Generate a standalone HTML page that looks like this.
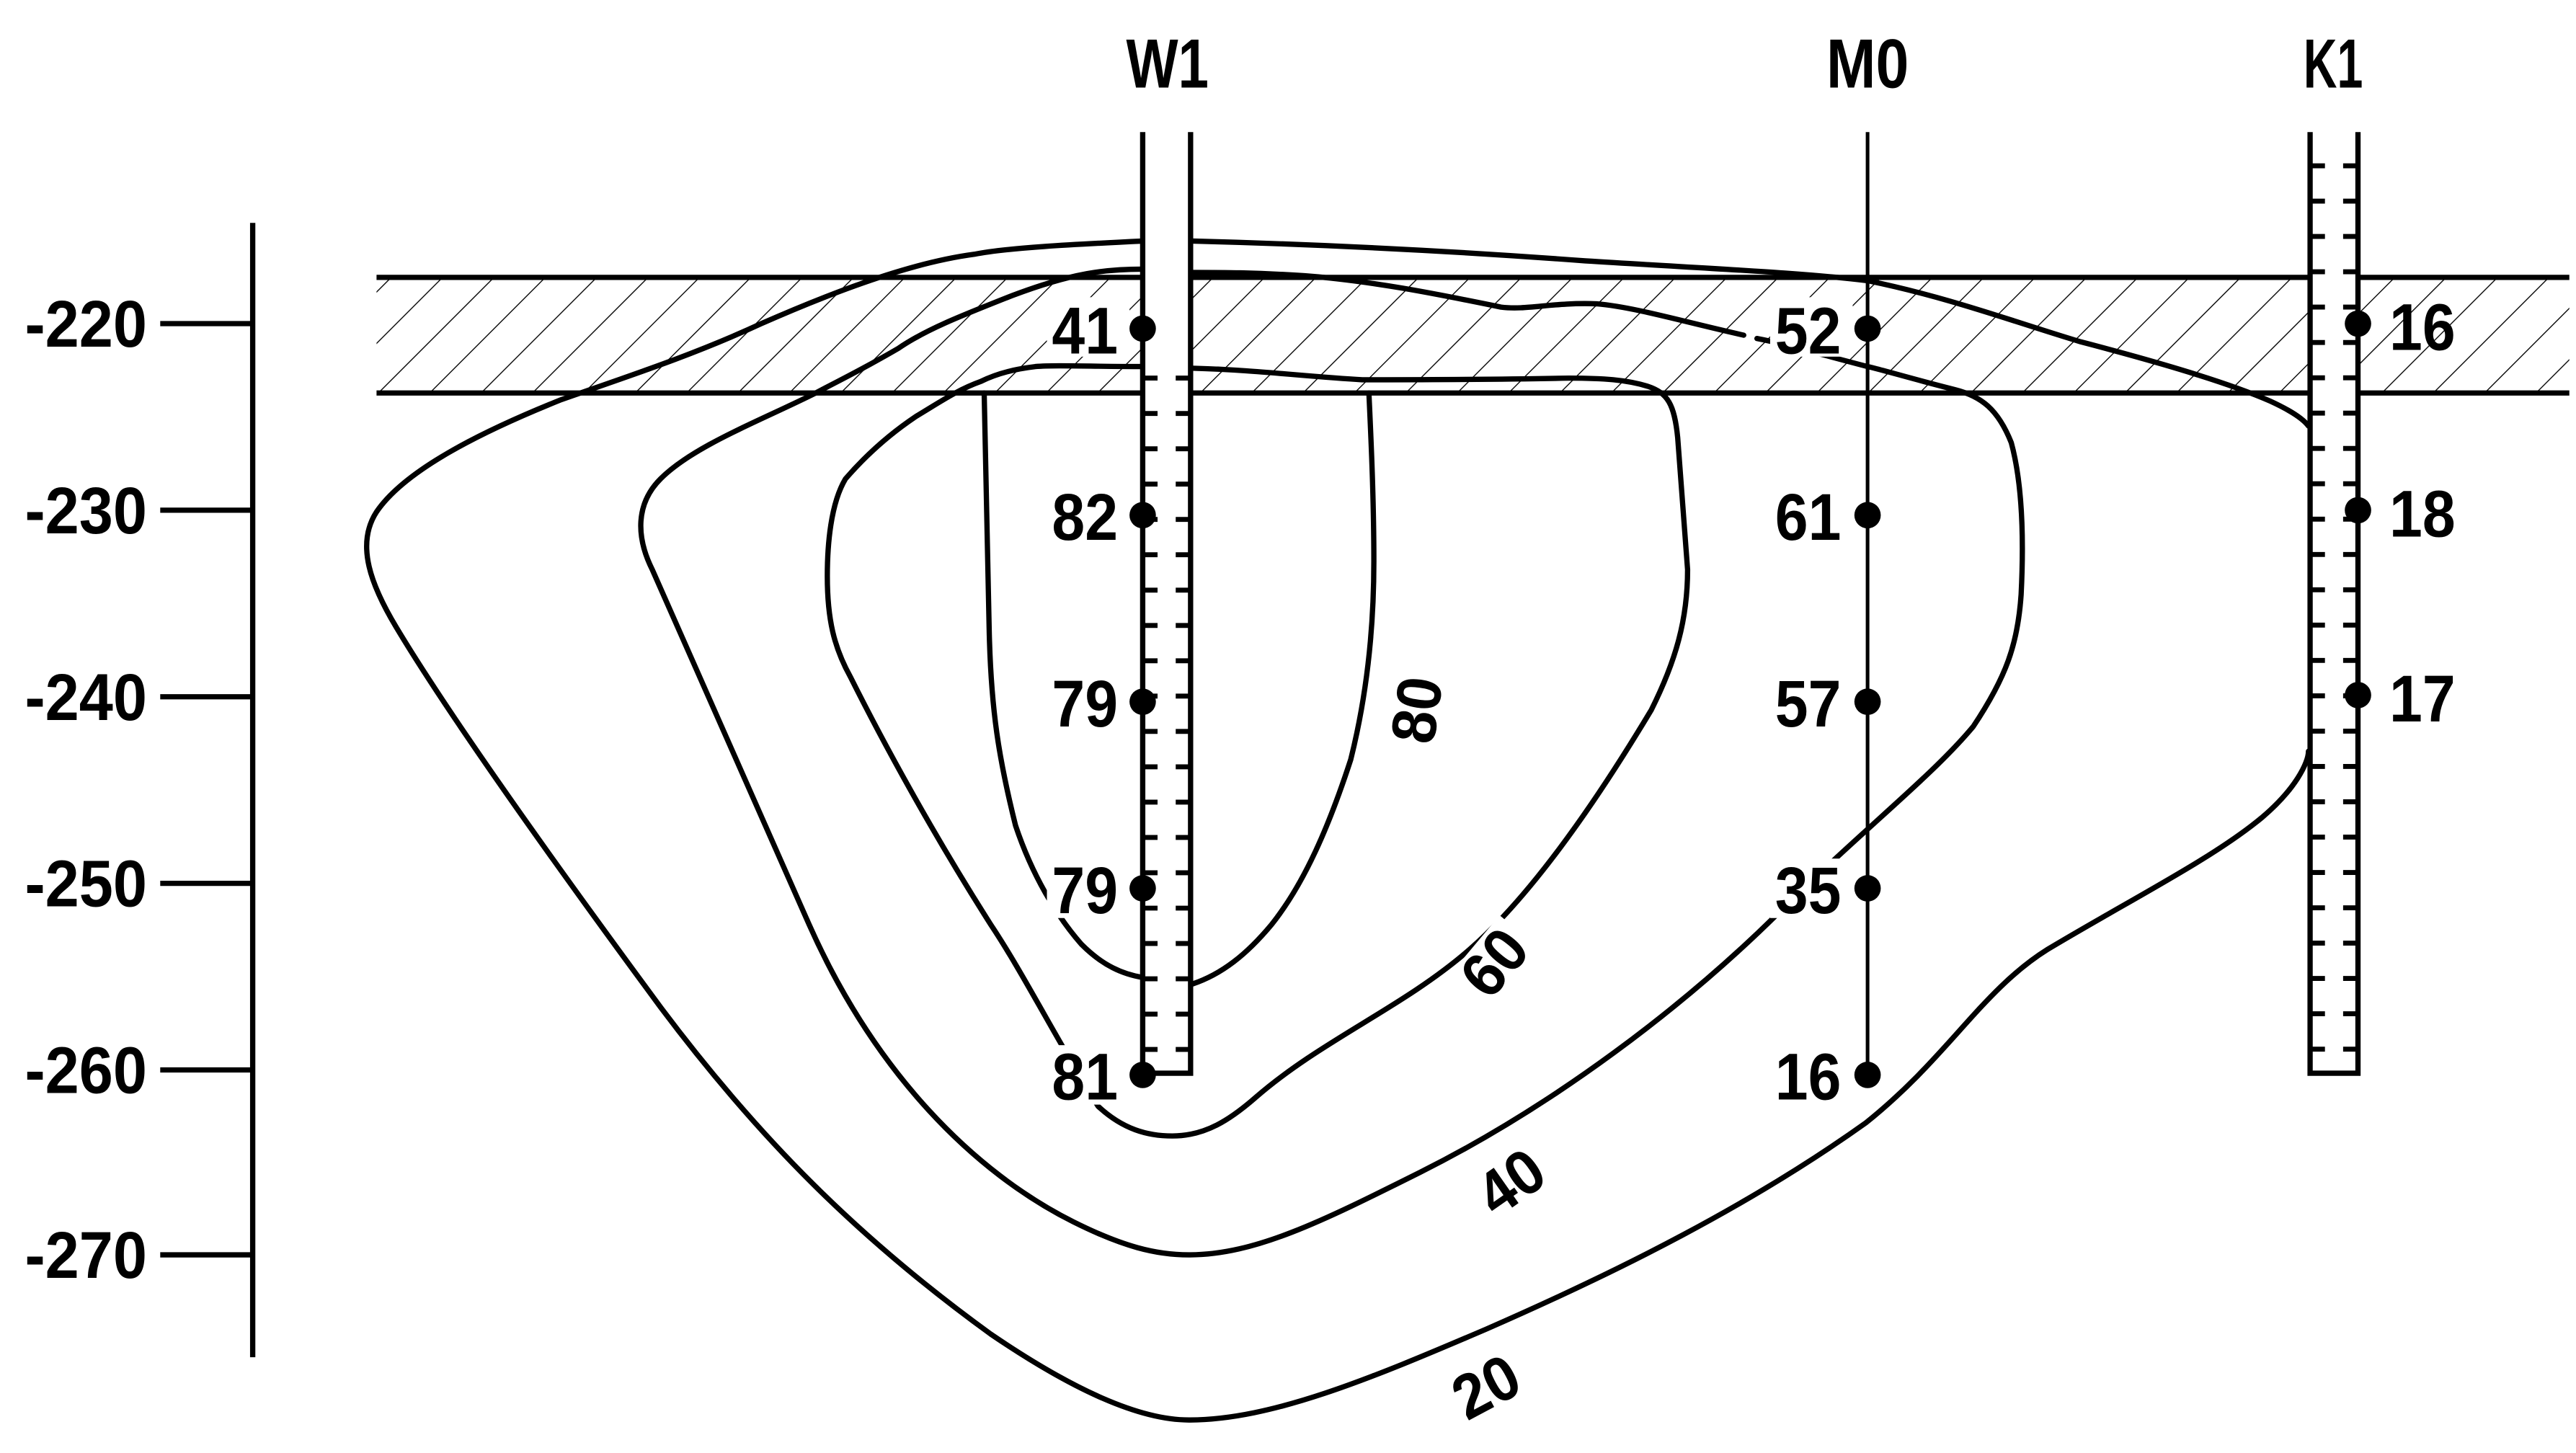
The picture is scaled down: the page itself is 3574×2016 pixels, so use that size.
<!DOCTYPE html>
<html><head><meta charset="utf-8"><style>
html,body{margin:0;padding:0;background:#fff}
svg{display:block}
text{font-family:"Liberation Sans Narrow","Liberation Sans",sans-serif;font-weight:bold;fill:#000}
</style></head><body>
<svg width="3574" height="2016" viewBox="0 0 1560 880" xmlns="http://www.w3.org/2000/svg">
<defs>
<pattern id="h" patternUnits="userSpaceOnUse" width="22" height="22" patternTransform="rotate(45)">
<line x1="0" y1="0" x2="0" y2="22" stroke="#000" stroke-width="1.2"/>
</pattern>
</defs>
<rect width="1560" height="880" fill="#fff"/>
<rect x="228" y="168" width="1328" height="70" fill="url(#h)"/>
<line x1="228" y1="168" x2="1556" y2="168" stroke="#000" stroke-width="3.2"/>
<line x1="228" y1="238" x2="1556" y2="238" stroke="#000" stroke-width="3.2"/>

<g stroke="#000" stroke-width="3.2">
<line x1="153" y1="135" x2="153" y2="822"/>
<line x1="97" y1="196" x2="153" y2="196"/>
<line x1="97" y1="309" x2="153" y2="309"/>
<line x1="97" y1="422" x2="153" y2="422"/>
<line x1="97" y1="535" x2="153" y2="535"/>
<line x1="97" y1="648" x2="153" y2="648"/>
<line x1="97" y1="760" x2="153" y2="760"/>
</g>
<g font-size="40" text-anchor="end">
<text x="89" y="210" textLength="74" lengthAdjust="spacingAndGlyphs">-220</text>
<text x="89" y="323" textLength="74" lengthAdjust="spacingAndGlyphs">-230</text>
<text x="89" y="436" textLength="74" lengthAdjust="spacingAndGlyphs">-240</text>
<text x="89" y="549" textLength="74" lengthAdjust="spacingAndGlyphs">-250</text>
<text x="89" y="662" textLength="74" lengthAdjust="spacingAndGlyphs">-260</text>
<text x="89" y="774" textLength="74" lengthAdjust="spacingAndGlyphs">-270</text>
</g>

<g fill="none" stroke="#000" stroke-width="3.2" stroke-linejoin="round" stroke-linecap="round">
<path d="M692,146 C650,148 610,150 590,154 C560,158 520,170 461,196 C420,215 380,228 340,242 C290,262 245,285 228,310 C215,330 225,355 240,380 C270,430 330,515 400,610 C460,690 520,750 600,808 C650,842 690,860 720,860 C770,860 830,835 900,805 C980,770 1060,730 1130,680 C1180,640 1200,600 1240,575 C1290,545 1340,520 1370,495 C1390,478 1398,462 1398,455"/>
<path d="M722,146 C800,148 880,152 960,158 C1040,163 1090,165 1131,170 C1180,180 1220,195 1260,207 C1310,220 1350,232 1375,243 C1388,249 1395,254 1398,258"/>
<path d="M692,163 C670,163 650,165 613,179 C580,192 560,200 544,211 C520,225 505,232 494,238 C460,255 420,270 400,290 C385,305 385,325 395,345 C420,400 450,470 490,560 C530,650 590,710 650,740 C680,755 700,760 720,760 C760,760 800,740 860,710 C940,670 1020,610 1080,550 C1131,500 1170,470 1195,440 C1215,410 1222,390 1224,360 C1226,320 1224,290 1218,268 C1210,248 1200,240 1184,236 C1160,230 1140,224 1131,222 C1100,214 1080,208 1064,205"/>
<path d="M1056,203 C1020,195 990,186 967,184 C940,183 925,188 909,186 C870,178 830,170 790,167 C760,165 740,165 722,165"/>
<path d="M692,222 C660,222 640,221 627,222 C610,224 600,228 594,231 C580,236 570,243 555,252 C540,262 525,275 512,290 C503,305 501,330 501,349 C501,375 505,392 515,410 C535,450 565,505 600,560 C620,590 640,630 665,670 C680,684 695,688 710,688 C730,688 745,678 760,665 C800,630 850,610 890,575 C930,540 970,480 1000,430 C1015,400 1022,375 1022,345 C1020,320 1018,290 1016,265 C1014,245 1010,238 998,234 C985,230 971,229 950,229 C900,230 850,230 825,230 C790,228 760,224 722,223"/>
<path d="M596,238 C597,280 598,330 599,380 C600,430 605,460 615,500 C625,530 640,555 655,572 C668,585 680,590 692,592"/>
<path d="M722,596 C740,590 755,578 770,560 C790,535 805,500 818,460 C828,420 832,380 832,340 C832,300 830,260 829,238"/>
</g>

<rect x="692" y="80" width="29" height="570" fill="#fff"/>
<rect x="1399" y="80" width="29" height="570" fill="#fff"/>
<g stroke="#000" stroke-width="3.2" fill="none">
<path d="M692,80 V650 H721 V80"/>
<path d="M1399,80 V650 H1428 V80"/>
</g>
<line x1="1131" y1="80" x2="1131" y2="650" stroke="#000" stroke-width="2.2"/>
<g stroke="#000" stroke-width="3">
<path d="M692,229h9M712,229h9M692,250.4h9M712,250.4h9M692,271.8h9M712,271.8h9M692,293.2h9M712,293.2h9M692,314.6h9M712,314.6h9M692,336h9M712,336h9M692,357.4h9M712,357.4h9M692,378.8h9M712,378.8h9M692,400.2h9M712,400.2h9M692,421.6h9M712,421.6h9M692,443h9M712,443h9M692,464.4h9M712,464.4h9M692,485.8h9M712,485.8h9M692,507.2h9M712,507.2h9M692,528.6h9M712,528.6h9M692,550h9M712,550h9M692,571.4h9M712,571.4h9M692,592.8h9M712,592.8h9M692,614.2h9M712,614.2h9M692,635.6h9M712,635.6h9"/>
<path d="M1399,100.4h9M1419,100.4h9M1399,121.8h9M1419,121.8h9M1399,143.2h9M1419,143.2h9M1399,164.6h9M1419,164.6h9M1399,186h9M1419,186h9M1399,207.4h9M1419,207.4h9M1399,228.8h9M1419,228.8h9M1399,250.2h9M1419,250.2h9M1399,271.6h9M1419,271.6h9M1399,293h9M1419,293h9M1399,314.4h9M1419,314.4h9M1399,335.8h9M1419,335.8h9M1399,357.2h9M1419,357.2h9M1399,378.6h9M1419,378.6h9M1399,400h9M1419,400h9M1399,421.4h9M1419,421.4h9M1399,442.8h9M1419,442.8h9M1399,464.2h9M1419,464.2h9M1399,485.6h9M1419,485.6h9M1399,507h9M1419,507h9M1399,528.4h9M1419,528.4h9M1399,549.8h9M1419,549.8h9M1399,571.2h9M1419,571.2h9M1399,592.6h9M1419,592.6h9M1399,614h9M1419,614h9M1399,635.4h9M1419,635.4h9"/>
</g>

<g fill="#fff">
<rect x="634" y="180" width="50" height="36"/>
<rect x="1072" y="180" width="50" height="36"/>
<rect x="634" y="520" width="48" height="36"/>
<rect x="634" y="633" width="48" height="36"/>
<rect x="1072" y="520" width="50" height="36"/>
<g transform="translate(858,430) rotate(-82)"><rect x="-24" y="-16" width="48" height="32"/></g>
<g transform="translate(905,583) rotate(-50)"><rect x="-24" y="-16" width="48" height="32"/></g>
<g transform="translate(915,716) rotate(-35)"><rect x="-24" y="-16" width="48" height="32"/></g>
<g transform="translate(900,840) rotate(-28)"><rect x="-24" y="-16" width="48" height="32"/></g>
</g>

<g fill="#000">
<circle cx="692" cy="199" r="8"/><circle cx="692" cy="312" r="8"/><circle cx="692" cy="425" r="8"/><circle cx="692" cy="538" r="8"/><circle cx="692" cy="651" r="8"/>
<circle cx="1131" cy="199" r="8"/><circle cx="1131" cy="312" r="8"/><circle cx="1131" cy="425" r="8"/><circle cx="1131" cy="538" r="8"/><circle cx="1131" cy="651" r="8"/>
<circle cx="1428" cy="196" r="8"/><circle cx="1428" cy="309" r="8"/><circle cx="1428" cy="421" r="8"/>
</g>

<g font-size="42" text-anchor="middle">
<text x="707" y="53" textLength="50" lengthAdjust="spacingAndGlyphs">W1</text>
<text x="1131" y="53" textLength="50" lengthAdjust="spacingAndGlyphs">M0</text>
<text x="1413" y="53" textLength="36" lengthAdjust="spacingAndGlyphs">K1</text>
</g>
<g font-size="40" text-anchor="end">
<text x="677" y="214" textLength="40" lengthAdjust="spacingAndGlyphs">41</text>
<text x="677" y="327" textLength="40" lengthAdjust="spacingAndGlyphs">82</text>
<text x="677" y="440" textLength="40" lengthAdjust="spacingAndGlyphs">79</text>
<text x="677" y="553" textLength="40" lengthAdjust="spacingAndGlyphs">79</text>
<text x="677" y="666" textLength="40" lengthAdjust="spacingAndGlyphs">81</text>
<text x="1115" y="214" textLength="40" lengthAdjust="spacingAndGlyphs">52</text>
<text x="1115" y="327" textLength="40" lengthAdjust="spacingAndGlyphs">61</text>
<text x="1115" y="440" textLength="40" lengthAdjust="spacingAndGlyphs">57</text>
<text x="1115" y="553" textLength="40" lengthAdjust="spacingAndGlyphs">35</text>
<text x="1115" y="666" textLength="40" lengthAdjust="spacingAndGlyphs">16</text>
</g>
<g font-size="40">
<text x="1447" y="212" textLength="40" lengthAdjust="spacingAndGlyphs">16</text>
<text x="1447" y="325" textLength="40" lengthAdjust="spacingAndGlyphs">18</text>
<text x="1447" y="437" textLength="40" lengthAdjust="spacingAndGlyphs">17</text>
</g>
<g font-size="38" text-anchor="middle">
<text transform="translate(858,430) rotate(-82)" y="13" textLength="40" lengthAdjust="spacingAndGlyphs">80</text>
<text transform="translate(905,583) rotate(-50)" y="13" textLength="40" lengthAdjust="spacingAndGlyphs">60</text>
<text transform="translate(915,716) rotate(-35)" y="13" textLength="40" lengthAdjust="spacingAndGlyphs">40</text>
<text transform="translate(900,840) rotate(-28)" y="13" textLength="40" lengthAdjust="spacingAndGlyphs">20</text>
</g>
</svg>
</body></html>
